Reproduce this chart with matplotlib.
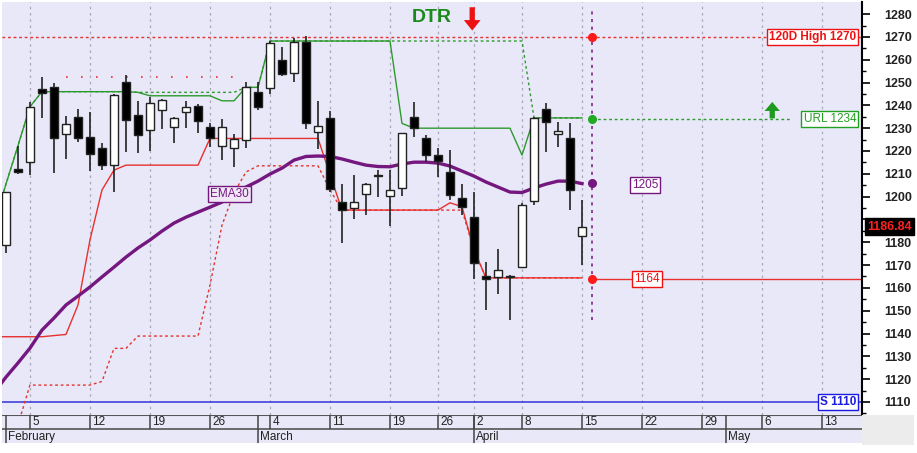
import matplotlib
matplotlib.use("Agg")
import matplotlib.pyplot as plt
from matplotlib.patches import Rectangle
import numpy as np

plt.rcParams["font.family"] = ["Liberation Sans", "DejaVu Sans"]

# trading-day index: 0 = 5 February
idx = list(range(-2, 47))
opens = [1179, 1212, 1215.3, 1247, 1248, 1227.4, 1234.7, 1226, 1221.1, 1213.8,
         1250.3, 1235.7, 1229.2, 1238, 1230.4, 1237.2, 1239.8, 1230.6, 1222.3, 1221.1,
         1224.8, 1246, 1247.4, 1260.1, 1254, 1267.9, 1228.2, 1234.6, 1197.5, 1195.1,
         1201, 1209, 1200.4, 1203.6, 1235, 1225.5, 1218.2, 1210.9, 1199.2, 1191.2,
         1165.2, 1164.9, 1164.6, 1169.3, 1198.1, 1238.4, 1227.4, 1225.5, 1182.7]
highs = [1202, 1222, 1241.6, 1252.5, 1249.6, 1235.3, 1238.2, 1237.2, 1223.6, 1245,
         1253.3, 1242, 1243.8, 1243, 1235, 1242, 1240.5, 1232.1, 1233.9, 1227.4,
         1250.3, 1250.3, 1268, 1265.4, 1269.4, 1270.4, 1242, 1237.5, 1205.5, 1209.4,
         1206, 1211.6, 1211.6, 1228, 1241.6, 1227, 1221.3, 1220.4, 1205.4, 1202.1,
         1171.5, 1176.9, 1165.6, 1197, 1235, 1240.9, 1232.8, 1232.1, 1198.5]
lows = [1175.5, 1210, 1209.4, 1234.4, 1210.3, 1216.3, 1224, 1211.2, 1211.6, 1201.9,
        1219.7, 1219, 1220.2, 1229.6, 1223.3, 1229.9, 1227.9, 1221.9, 1216, 1212.8,
        1221.1, 1237.9, 1245, 1252.8, 1250.3, 1229.5, 1220.7, 1202, 1179.6, 1190,
        1191.9, 1200, 1187.1, 1200.4, 1226.2, 1215.3, 1208.7, 1198.5, 1191.9, 1163.7,
        1150.3, 1157.3, 1146, 1168.6, 1196.3, 1219.7, 1221.9, 1194.1, 1170]
closes = [1202, 1211, 1239.4, 1245.6, 1225.5, 1231.8, 1225.5, 1218.6, 1213.8, 1244.5,
          1233.5, 1227, 1241.1, 1242.3, 1234.3, 1239.1, 1233.2, 1225.5, 1230.3, 1225.1,
          1248.1, 1239.4, 1267.4, 1253.7, 1267.9, 1232.4, 1231.1, 1203.3, 1194.1, 1197.7,
          1205.5, 1209.4, 1202.9, 1227.7, 1230.2, 1218.2, 1215.6, 1200.7, 1195.6, 1170.8,
          1164, 1167.8, 1164.9, 1196.3, 1234.3, 1232.8, 1228.6, 1202.9, 1186.84]

line_idx = list(range(-3, 47))
ema30 = [1114, 1120.9, 1127.1, 1133.6, 1141.5, 1146.8, 1152.5, 1156.4, 1160.4, 1164.8,
         1169.1, 1173.5, 1177.5, 1181, 1184.9, 1188.4, 1191, 1193.2, 1195.4, 1197.6,
         1201.6, 1204.2, 1206.8, 1209.9, 1212.5, 1216, 1217.6, 1217.8, 1217.6, 1216.5,
         1215.1, 1213.8, 1213.2, 1213.1, 1214.3, 1215.1, 1215.1, 1214.7, 1213.4, 1211.2,
         1209, 1206.4, 1204.2, 1202, 1201.8, 1203.8, 1205.5, 1206.8, 1206.8, 1205.7]
upper = [1188, 1205.5, 1222.3, 1239.4, 1246, 1246, 1246, 1246, 1246, 1246,
         1246, 1246, 1245.7, 1244.2, 1244.2, 1244.2, 1244.2, 1244.2, 1244.2, 1242,
         1242, 1247.9, 1247.9, 1268.2, 1268.2, 1268.2, 1268.2, 1268.2, 1268.2, 1268.2,
         1268.2, 1268.2, 1268.2, 1268.2, 1232.1, 1230, 1230, 1230, 1230, 1230,
         1230, 1230, 1230, 1230, 1218.2, 1234.5, 1234.5, 1234.5, 1234.5, 1234.5]
upper_prev = [1188, 1205.5, 1222.3, 1239.4, 1246, 1246, 1246, 1246, 1246, 1246,
              1246, 1246, 1245.7, 1245.7, 1245.7, 1245.7, 1245.7, 1245.7, 1245.7, 1245.7,
              1245.7, 1247.9, 1247.9, 1268.2, 1268.2, 1268.2, 1268.2, 1268.2, 1268.2, 1268.2,
              1268.2, 1268.2, 1268.2, 1268.2, 1268.2, 1268.2, 1268.2, 1268.2, 1268.2, 1268.2,
              1268.2, 1268.2, 1268.2, 1268.2, 1268.2, 1234.5, 1234.5, 1234.5, 1234.5, 1234.5]
stop = [1138.6, 1138.6, 1138.6, 1138.6, 1138.6, 1139.1, 1139.6, 1152.5, 1181, 1202.9,
        1211.6, 1213.8, 1213.8, 1213.8, 1213.8, 1213.8, 1213.8, 1213.8, 1225.5, 1225.5,
        1225.5, 1225.5, 1225.5, 1225.5, 1225.5, 1225.5, 1225.5, 1225.5, 1209.7, 1194.1,
        1194.1, 1194.1, 1194.1, 1194.1, 1194.1, 1194.1, 1194.1, 1194.1, 1197.3, 1195.6,
        1176.6, 1164.4, 1164.4, 1164.4, 1164.4, 1164.4, 1164.4, 1164.4, 1164.4, 1164.4]
stop_prev = [None, None, 1100, 1117.4, 1117.4, 1117.4, 1117.4, 1117.4, 1117.4, 1119,
             1133.5, 1133.5, 1138.9, 1138.9, 1138.9, 1138.9, 1138.9, 1138.9, 1161.2, 1187.5,
             1201.6, 1210.8, 1213.5, 1213.5, 1213.5, 1213.5, 1213.5, 1213.5, 1203, 1194.1,
             1194.1, 1194.1, 1194.1, 1194.1, 1194.1, 1194.1, 1194.1, 1194.1, 1194.1, 1194.1,
             1176.6, 1164.4, 1164.4, 1164.4, 1164.4, 1164.4, 1164.4, 1164.4, 1164.4, 1164.4]

old_high = 1252.5
old_high_span = (3, 18)
high_120d = 1270
url_level = 1234
ema_last = 1205
stop_level = 1164
support = 1110
last_close = 1186.84

day_ticks = [0, 5, 10, 15, 20, 25, 30, 34, 37, 41, 46, 51, 56, 61, 66]
day_labels = ["5", "12", "19", "26", "4", "11", "19", "26", "2", "8", "15", "22", "29", "6", "13"]
month_ticks = [-2, 19, 37, 58]
month_labels = ["February", "March", "April", "May"]

BG = "#e8e8f8"
RED = "#e8302c"
GREEN = "#2e9a2e"
PURPLE = "#74177f"
BLUE = "#3333dd"

fig = plt.figure(figsize=(9.17, 4.53), dpi=100)
ax = fig.add_axes([2 / 917, 38 / 453, 860 / 917, 413 / 453])
ax.set_facecolor(BG)
xmin, xmax = -2.33, 69.33
ymin, ymax = 1104.3, 1285.3
ax.set_xlim(xmin, xmax)
ax.set_ylim(ymin, ymax)

for s in ["top", "left", "bottom"]:
    ax.spines[s].set_visible(False)
ax.spines["right"].set_linewidth(1.5)
ax.yaxis.tick_right()
yt = np.arange(1110, 1281, 10)
ax.set_yticks(yt)
# 1190 sits under the last-price box
ax.set_yticklabels(["" if v == 1190 else str(v) for v in yt])
ax.set_yticks(np.arange(1105, 1285, 5), minor=True)
ax.tick_params(axis="y", which="major", length=6, width=1.2, pad=10,
               labelsize=9, labelcolor="#222222")
ax.tick_params(axis="y", which="minor", length=3, width=1)
for lbl in ax.get_yticklabels():
    lbl.set_fontweight("bold")
ax.set_xticks(day_ticks)
ax.tick_params(axis="x", length=0, labelbottom=False)
ax.grid(axis="x", color="#a8a8b8", linestyle=(0, (2, 3)), linewidth=0.9)

# horizontal levels
ax.axhline(high_120d, color=RED, linestyle=(0, (2, 2)), linewidth=1)
ax.axhline(support, color=BLUE, linewidth=1.1)
ax.hlines(old_high, *old_high_span, color=RED, linestyle=(0, (1, 8)), linewidth=1.2)

# trailing lines
ax.plot(line_idx, stop_prev, color=RED, linestyle=(0, (2, 2)), linewidth=1)
ax.plot(line_idx, upper_prev, color=GREEN, linestyle=(0, (2, 2)), linewidth=1)
ax.plot(line_idx, stop, color=RED, linewidth=1)
ax.plot(line_idx, upper, color=GREEN, linewidth=1)
ax.plot(line_idx, ema30, color=PURPLE, linewidth=2.4)

# candles
w = 0.7
for i, o, h, l, c in zip(idx, opens, highs, lows, closes):
    ax.vlines(i, l, h, color="#222222", linewidth=1.2, zorder=3)
    lo, hi = min(o, c), max(o, c)
    up = c >= o
    ax.add_patch(Rectangle((i - w / 2, lo), w, max(hi - lo, 0.6),
                           facecolor="white" if up else "black",
                           edgecolor="#222222", linewidth=1, zorder=4))

# projection column
proj = idx[-1] + 0.85
ax.vlines(proj, 1146, 1282, color=PURPLE, linestyle=(0, (2, 3)), linewidth=1.1)
ax.hlines(stop_level, proj, xmax, color=RED, linewidth=1)
ax.hlines(url_level, proj, 63.5, color=GREEN, linestyle=(0, (2, 2)), linewidth=1)
for lvl, col in [(high_120d, "#ff1a1a"), (url_level, "#22aa22"),
                 (ema_last, PURPLE), (stop_level, "#ff1a1a")]:
    ax.plot(proj, lvl + (0.8 if lvl == ema_last else 0), "o", color=col,
            markersize=5.5, zorder=6)

def tag(x, y, s, color, ha="center", bold=False):
    ax.text(x, y, s, color=color, ha=ha, va="center", fontsize=8.5,
            fontweight="bold" if bold else "normal", zorder=7,
            bbox=dict(boxstyle="square,pad=0.18", fc="white", ec=color, lw=1))

tag(68.85, high_120d, "120D High 1270", "#ee1111", ha="right", bold=True)
tag(68.85, url_level, "URL 1234", "#22a022", ha="right")
tag(51.25, ema_last, "1205", PURPLE)
tag(51.4, stop_level, "1164", "#ee1111")
tag(68.85, support, "S 1110", "#1a1ae0", ha="right", bold=True)
ax.text(16.6, 1201.2, "EMA30", color=PURPLE, ha="center", va="center", fontsize=8.5,
        zorder=7, bbox=dict(boxstyle="square,pad=0.18", fc="#f0e6f6", ec=PURPLE, lw=1))

ax.text(33.5, 1278.3, "DTR", color="#1a8a1a", fontsize=14, fontweight="bold",
        ha="center", va="center")
ax.annotate("", xy=(36.85, 1272.8), xytext=(36.85, 1283.0),
            arrowprops=dict(width=3.8, headwidth=12, headlength=7.5, shrink=0,
                            color="#ee1111", lw=0))
ax.annotate("", xy=(61.85, 1241.5), xytext=(61.85, 1234.3),
            arrowprops=dict(width=3.8, headwidth=11, headlength=6.5, shrink=0,
                            color="#1e9a1e", lw=0))

ax.text(1.006, (last_close - ymin) / (ymax - ymin), f"{last_close:.2f}",
        transform=ax.transAxes, color="#ff2020", fontsize=9, fontweight="bold",
        ha="left", va="center", clip_on=False,
        bbox=dict(boxstyle="square,pad=0.2", fc="black", ec="black"))

# date axis
dax = fig.add_axes([2 / 917, 10 / 453, 860 / 917, 28 / 453])
dax.set_facecolor(BG)
dax.set_xlim(xmin, xmax)
dax.set_ylim(0, 2)
dax.axis("off")
dax.add_patch(Rectangle((xmin, 0), xmax - xmin, 2, facecolor=BG, edgecolor="none"))
dax.axhline(2, color="#555555", linewidth=1.5)
dax.axhline(1, color="#555555", linewidth=1.2)
dax.vlines(day_ticks, 1, 2, color="#444444", linewidth=1.1)
dax.vlines(month_ticks, 0, 2, color="#444444", linewidth=1.1)
for x, s in zip(day_ticks, day_labels):
    dax.text(x + 0.2, 1.48, s, fontsize=8.5, color="#222222", va="center", ha="left")
for x, s in zip(month_ticks, month_labels):
    dax.text(x + 0.2, 0.45, s, fontsize=8.5, color="#222222", va="center", ha="left")

fig.patches.append(Rectangle((862 / 917, 8 / 453), 52 / 917, 30 / 453,
                             transform=fig.transFigure, facecolor="#ececec",
                             edgecolor="none"))

fig.savefig("out.png", dpi=100)
